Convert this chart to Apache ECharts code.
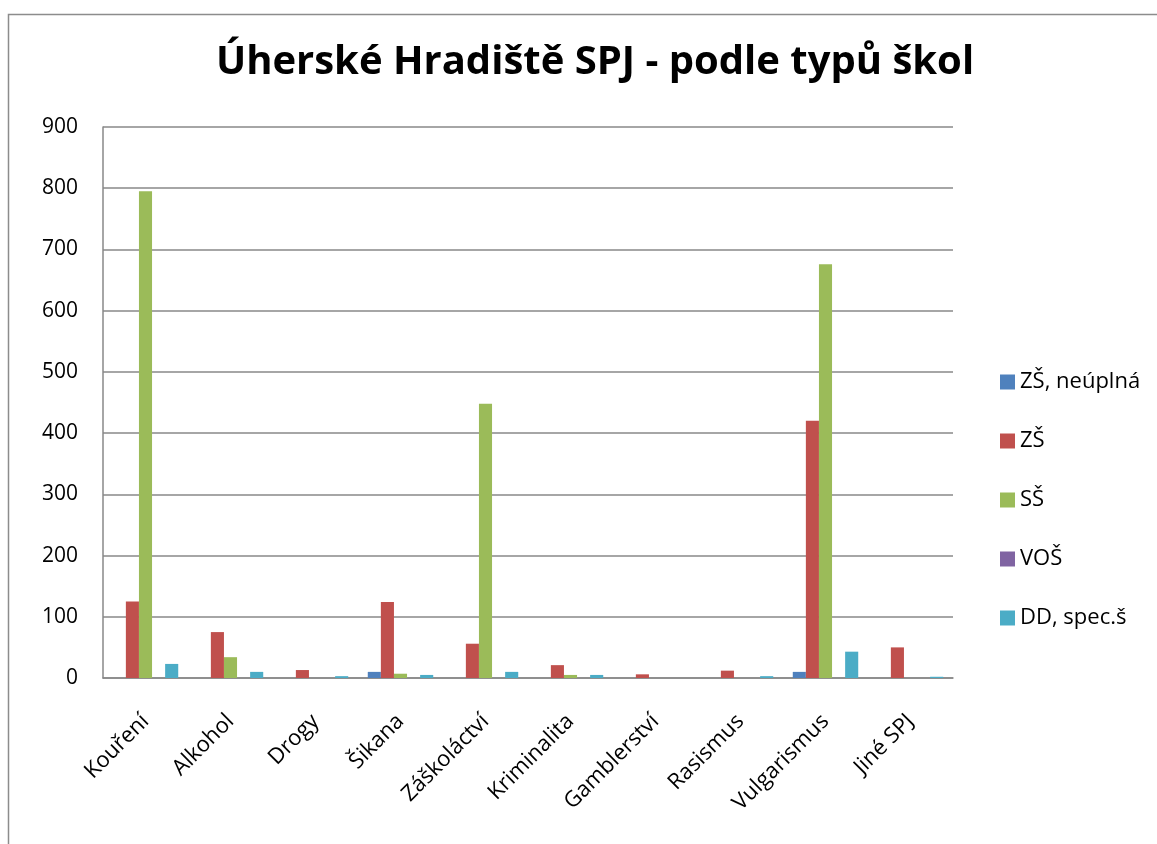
<!DOCTYPE html>
<html>
<head>
<meta charset="utf-8">
<script src="https://cdn.jsdelivr.net/npm/echarts@6/dist/echarts.min.js"></script>
<style>
html, body { margin: 0; padding: 0; background: #fff; }
#chart { width: 1157px; height: 844px; }
</style>
</head>
<body>
<div id="chart"></div>
<script>
// kategorie a hodnoty
const categories = ['Kouření', 'Alkohol', 'Drogy', 'Šikana', 'Záškoláctví',
  'Kriminalita', 'Gamblerství', 'Rasismus', 'Vulgarismus', 'Jiné SPJ']
const zsNeuplna = [0, 0, 0, 10, 0, 0, 0, 0, 10, 0]
const zs = [125, 75, 13, 124, 56, 21, 6, 12, 420, 50]
const ss = [795, 34, 0, 7, 448, 5, 0, 0, 676, 0]
const vos = [0, 0, 0, 0, 0, 0, 0, 0, 0, 0]
const ddSpec = [23, 10, 3, 5, 10, 5, 0, 3, 43, 2]
const yTicks = [0, 100, 200, 300, 400, 500, 600, 700, 800, 900]

const chart = echarts.init(document.getElementById('chart'))
const font = '"Open Sans", "DejaVu Sans", sans-serif'

function bar (name, data, color) {
  return {
    name: name,
    type: 'bar',
    data: data,
    barGap: '0%',
    barCategoryGap: '23%',
    itemStyle: { color: color }
  }
}

chart.setOption({
  animation: false,
  textStyle: { fontFamily: font },
  graphic: [{
    type: 'rect',
    shape: { x: 8.5, y: 14.5, width: 1160, height: 850 },
    style: { fill: 'none', stroke: '#8c8c8c', lineWidth: 1.5 },
    silent: true
  }],
  title: {
    text: 'Úherské Hradiště SPJ - podle typů škol',
    left: 590,
    textAlign: 'center',
    top: 38,
    textStyle: { fontSize: 40, fontWeight: 'bold', color: '#000', fontFamily: font }
  },
  grid: { left: 103, right: 204, top: 127, bottom: 166, containLabel: false },
  legend: {
    orient: 'vertical',
    left: 995,
    top: 366,
    itemWidth: 15,
    itemHeight: 15,
    itemGap: 37,
    icon: 'rect',
    textStyle: { fontSize: 22, color: '#000', fontFamily: font, padding: [0, 0, 0, 0] }
  },
  xAxis: {
    type: 'category',
    data: categories,
    axisLine: { lineStyle: { color: '#888', width: 1.5 } },
    axisTick: { show: false },
    axisLabel: { rotate: 45, fontSize: 22, color: '#000', margin: 40, interval: 0 }
  },
  yAxis: {
    type: 'value',
    min: yTicks[0],
    max: yTicks[yTicks.length - 1],
    interval: 100,
    axisLine: { show: true, lineStyle: { color: '#888', width: 1.5 } },
    axisTick: { show: false },
    axisLabel: { fontSize: 21, color: '#000', margin: 25 },
    splitLine: { lineStyle: { color: '#888', width: 1.5 } }
  },
  series: [
    bar('ZŠ, neúplná', zsNeuplna, '#4F81BD'),
    bar('ZŠ', zs, '#C0504D'),
    bar('SŠ', ss, '#9BBB59'),
    bar('VOŠ', vos, '#8064A2'),
    bar('DD, spec.š', ddSpec, '#4BACC6')
  ]
})
</script>
</body>
</html>
